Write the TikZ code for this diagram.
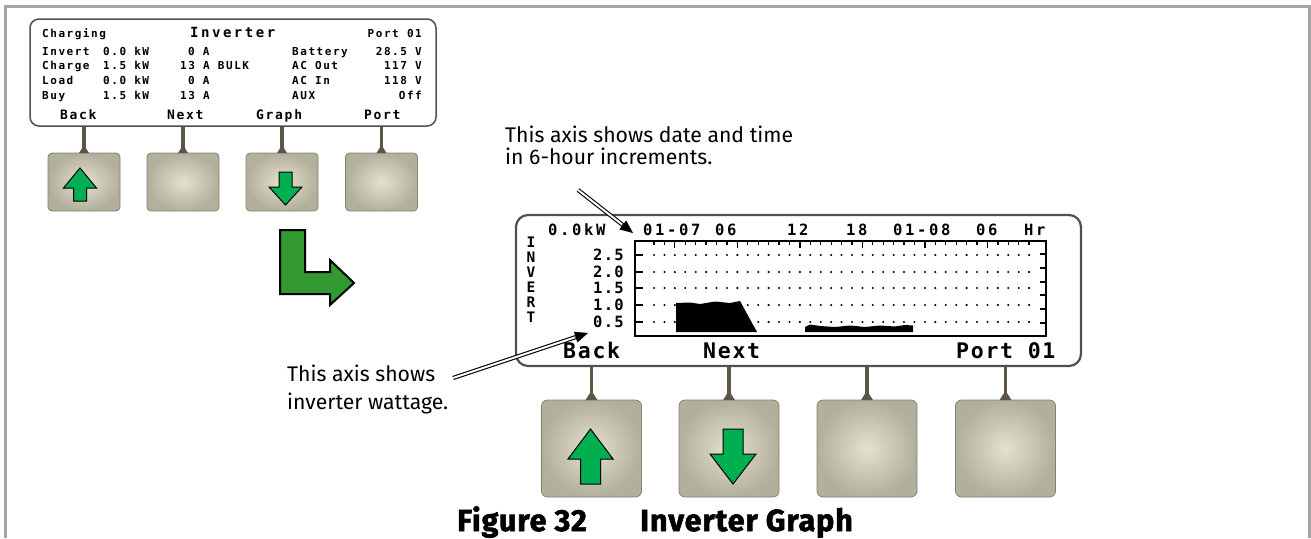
\documentclass[tikz,border=0pt]{standalone}
\usepackage{fontspec}
\usetikzlibrary{arrows.meta,calc}
\newfontfamily\lcdS[LetterSpace=14]{DejaVu Sans Mono}
\newfontfamily\lcdI[LetterSpace=18]{DejaVu Sans Mono}
\newfontfamily\lcdK[LetterSpace=13]{DejaVu Sans Mono}
\newfontfamily\lcdW[LetterSpace=17]{DejaVu Sans Mono}
\newfontfamily\lcdM[LetterSpace=8]{DejaVu Sans Mono}
\newfontfamily\annfont{Fira Sans}
\newfontfamily\capfont[LetterSpace=3,BoldFeatures={FakeBold=2}]{Fira Sans}
\definecolor{framec}{HTML}{A6A6A6}
\definecolor{dispc}{HTML}{505050}
\definecolor{stemc}{HTML}{5B5645}
\definecolor{btnin}{HTML}{E4E1CE}
\definecolor{btnout}{HTML}{B3AF9D}
\definecolor{btnbd}{HTML}{85816F}
\definecolor{arrg}{RGB}{0,176,80}
\definecolor{lgreen}{RGB}{51,153,51}
\begin{document}
\begin{tikzpicture}[x=1pt,y=-1pt,
  disp/.style={draw=dispc,rounded corners=9pt,fill=white,inner sep=0pt},
  btn/.style={draw=btnbd,line width=0.8pt,rounded corners=4pt,inner color=btnin,outer color=btnout,inner sep=0pt},
  stemline/.style={draw=stemc,line width=3.2pt},
  sm/.style={font={\lcdS\bfseries\fontsize{11}{12}\selectfont},inner sep=0pt,anchor=base west},
  smb/.style={font={\lcdI\bfseries\fontsize{14}{15}\selectfont},inner sep=0pt,anchor=base west},
  sks/.style={font={\lcdK\bfseries\fontsize{13}{14}\selectfont},inner sep=0pt,anchor=base west},
  tl/.style={font={\lcdW\bfseries\fontsize{15.5}{17}\selectfont},inner sep=0pt,anchor=base west},
  yl/.style={font={\lcdM\bfseries\fontsize{15.5}{16}\selectfont},inner sep=0pt,anchor=base west},
  iv/.style={font={\lcdM\bfseries\fontsize{14.5}{15}\selectfont},inner sep=0pt,anchor=base},
  skb/.style={font={\lcdM\bfseries\fontsize{21.5}{23}\selectfont},inner sep=0pt,anchor=base west},
  ann/.style={font={\annfont\fontsize{21.2}{24}\selectfont},inner sep=0pt,anchor=base west,align=left},
  captxt/.style={font={\capfont\bfseries\fontsize{30.5}{34}\selectfont},inner sep=0pt,anchor=base west},
  dbl/.style={draw=black,double=white,line width=1.1pt,double distance=2pt},
  arrhead/.style={-{Triangle[length=13pt,width=11pt]},line width=0.5pt},
  garrow/.style={fill=arrg,draw=black,line width=1pt,line join=miter},
  tk/.style={line width=1.3pt}]
\useasboundingbox (0,0) rectangle (1311,538);
% frame
\draw[framec,line width=3pt] (5.5,538) -- (5.5,6.5) -- (1309.5,6.5) -- (1309.5,538);

% ---------- small display ----------
\node[disp,line width=1.5pt,minimum width=406,minimum height=107] (d1) at (233,72.5) {};
\node[sm] (c1) at (42,37) {Charging};
\node[smb] (c2) at (190,37) {Inverter};
\node[sm,anchor=base east] (c3) at (422,37) {Port 01};
\foreach \a/\b/\c/\cx/\d/\e/\y [count=\i] in
  {Invert/0.0 kW/0 A/188/Battery/28.5 V/55,
   Charge/1.5 kW/13 A BULK/180/AC Out/117 V/69.5,
   Load/0.0 kW/0 A/188/AC In/118 V/84,
   Buy/1.5 kW/13 A/180/AUX/Off/99}{
  \node[sm] (ra\i) at (42,\y) {\a};
  \node[sm] (rb\i) at (103,\y) {\b};
  \node[sm] (rc\i) at (\cx,\y) {\c};
  \node[sm] (rd\i) at (292,\y) {\d};
  \node[sm,anchor=base east] (re\i) at (422,\y) {\e};
}
\foreach \t/\x [count=\i] in {Back/60,Next/167,Graph/256,Port/364}
  \node[sks] (sk\i) at (\x,119) {\t};

% small buttons
\foreach \x [count=\i] in {84,183,282,381.5}
  \node[btn,minimum width=72,minimum height=58] (sb\i) at (\x,182) {};
\foreach \i in {1,...,4}{
  \draw[stemline] (d1.south -| sb\i.north) -- (sb\i.north);
  \fill[stemc] ($(sb\i.north)+(-5,0.5)$) -- ($(sb\i.north)+(5,0.5)$) -- ($(sb\i.north)+(1.6,-5)$) -- ($(sb\i.north)+(-1.6,-5)$) -- cycle;
}
% small green arrows
\draw[garrow] (80,168) -- (96.5,188) -- (86.5,188) -- (86.5,201) -- (73.5,201) -- (73.5,188) -- (63.5,188) -- cycle;
\draw[garrow] (285.5,205) -- (302,187) -- (292,187) -- (292,172) -- (279,172) -- (279,187) -- (269,187) -- cycle;

% big L arrow
\draw[fill=lgreen,draw=black,line width=2pt,line join=miter]
  (280,230) -- (305,230) -- (305,272) -- (330,272) -- (330,260) -- (354,283)
  -- (330,305) -- (330,294) -- (280,294) -- cycle;

% ---------- big display ----------
\node[disp,line width=2.2pt,rounded corners=12pt,minimum width=565,minimum height=151] (d2) at (798.5,290.5) {};
\foreach \t/\x [count=\i] in {0.0kW/548,01-07/643,06/715,12/787,18/846,01-08/893,06/976,Hr/1024}
  \node[tl] (tl\i) at (\x,235) {\t};
\foreach \t/\y [count=\i] in {I/247,N/262,V/277,E/292,R/307,T/322}
  \node[iv] (iv\i) at (531,\y) {\t};
\foreach \t/\y [count=\i] in {2.5/260.5,2.0/277,1.5/293.5,1.0/310.5,0.5/327}
  \node[yl] (yl\i) at (593,\y) {\t};
% graph box
\node[draw,line width=2pt,inner sep=0pt,minimum width=411,minimum height=95] (gb) at (840.5,288.5) {};
\foreach \r in {255,272,288,305,322}{
  \foreach \k in {0,...,36} \fill (654+\k*10.42,\r) circle (1.15);
  \draw[tk] (635,\r) -- (643,\r);
}
\foreach \k in {0,...,36} \draw[tk] (654+\k*10.42,241) -- ++(0,3.5);
\foreach \k in {2,8,14,20,26,32} \draw[tk] (654+\k*10.42,241) -- ++(0,6.5);
\foreach \r in {254,268,282,295,309,323} \draw[tk] (1040,\r) -- (1046,\r);
% data
\fill (676,332) -- (676,303) -- (690,302.5) -- (700,304) -- (715,301.5) -- (730,303) -- (740,301) -- (757,332) -- cycle;
\fill (805,332) -- (805,327) -- (810,324.5) -- (820,326) -- (835,327) -- (850,325.5) -- (865,327) -- (880,325.5) -- (895,326.5) -- (905,325) -- (913,325.5) -- (913,332) -- cycle;
% soft keys big
\node[skb] (bk1) at (563,358) {Back};
\node[skb] (bk2) at (703,358) {Next};
\node[skb] (bk3) at (956,358) {Port 01};

% big buttons
\foreach \x [count=\i] in {591.5,729,867,1005.5}
  \node[btn,minimum width=100,minimum height=97,rounded corners=6pt] (bb\i) at (\x,448.5) {};
\foreach \i in {1,...,4}{
  \draw[stemline,line width=3.8pt] (d2.south -| bb\i.north) -- (bb\i.north);
  \fill[stemc] ($(bb\i.north)+(-6,0.5)$) -- ($(bb\i.north)+(6,0.5)$) -- ($(bb\i.north)+(1.9,-6)$) -- ($(bb\i.north)+(-1.9,-6)$) -- cycle;
}
\draw[garrow] (590.5,429) -- (613,459) -- (600.5,459) -- (600.5,484) -- (580.5,484) -- (580.5,459) -- (568,459) -- cycle;
\draw[garrow] (733,484) -- (756,454) -- (743,454) -- (743,429) -- (723,429) -- (723,454) -- (710,454) -- cycle;

% ---------- annotations ----------
\node[ann,font={\annfont\fontsize{21.2}{21.5}\selectfont}] (an1) at (505,164) {This axis shows date and time\\in 6-hour increments.};
\node[ann,font={\annfont\fontsize{21.2}{28}\selectfont}] (an2) at (287,409) {This axis shows\\inverter wattage.};
\coordinate (s1) at (578,190);
\coordinate (e1) at (633,233);
\coordinate (s2) at (453,378);
\coordinate (e2) at (588,333);
\draw[dbl] (s1) -- ($(e1)!9pt!(s1)$);
\draw[arrhead] ($(e1)!14pt!(s1)$) -- (e1);
\draw[dbl] (s2) -- ($(e2)!9pt!(s2)$);
\draw[arrhead] ($(e2)!14pt!(s2)$) -- (e2);

% caption
\node[captxt] (f1) at (457,531) {Figure 32};
\node[captxt] (f2) at (640,531) {Inverter Graph};
\end{tikzpicture}
\end{document}
